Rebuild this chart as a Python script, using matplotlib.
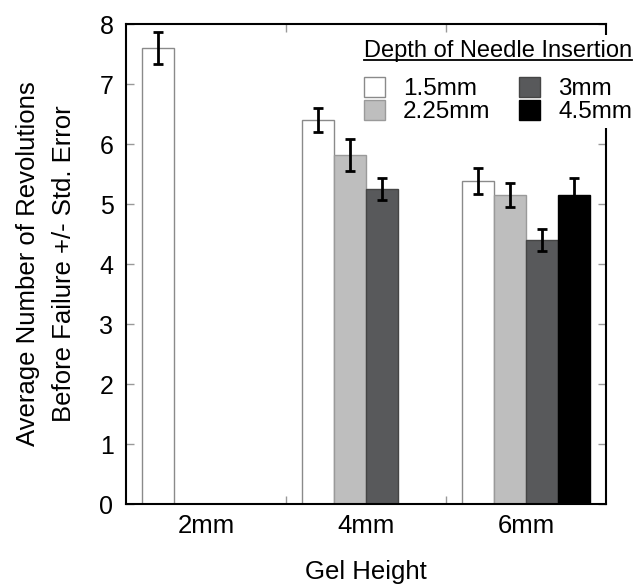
import numpy as np
import matplotlib
matplotlib.use("Agg")
import matplotlib.pyplot as plt
from matplotlib.lines import Line2D

plt.rcParams['font.family'] = ['Liberation Sans', 'DejaVu Sans']

# data
gel_heights = ['2mm', '4mm', '6mm']
depths = ['1.5mm', '2.25mm', '3mm', '4.5mm']
# mean revolutions per gel height (None = not tested)
mean_15 = [7.60, 6.40, 5.38]
mean_225 = [None, 5.82, 5.15]
mean_3 = [None, 5.25, 4.40]
mean_45 = [None, None, 5.15]
err_15 = [0.27, 0.20, 0.22]
err_225 = [None, 0.27, 0.20]
err_3 = [None, 0.18, 0.18]
err_45 = [None, None, 0.28]

fills = ['white', '#bebebe', '#58595b', 'black']
edges = ['#8a8a8a', '#9a9a9a', '#454545', '#000000']

fig = plt.figure(figsize=(6.35, 5.85), dpi=100)
ax = fig.add_axes([126 / 635, 81 / 585, 480 / 635, 480 / 585])

width = 0.2
x = np.arange(len(gel_heights))
series = [(mean_15, err_15), (mean_225, err_225), (mean_3, err_3), (mean_45, err_45)]
handles = []
for i, (means, errs) in enumerate(series):
    idx = [j for j, m in enumerate(means) if m is not None]
    xs = x[idx] - 0.3 + width * i
    h = [means[j] for j in idx]
    e = [errs[j] for j in idx]
    b = ax.bar(xs, h, width, color=fills[i], edgecolor=edges[i], linewidth=1,
               label=depths[i], zorder=2)
    ax.errorbar(xs, h, yerr=e, fmt='none', ecolor='black', elinewidth=2,
                capsize=3.5, capthick=2, zorder=3)
    handles.append(b)

ax.set_xlim(-0.5, 2.5)
ax.set_ylim(0, 8)
ax.set_xticks(x)
ax.set_xticklabels(gel_heights)
ax.set_xticks([0.5, 1.5], minor=True)
ax.set_yticks(range(0, 9))

ax.tick_params(axis='x', which='major', length=0, pad=7, labelsize=18.5)
ax.tick_params(axis='x', which='minor', direction='in', length=6, width=1,
               color='#999999', top=True, bottom=True)
ax.tick_params(axis='y', which='major', direction='in', length=6, width=1,
               color='#999999', left=True, right=True, pad=9, labelsize=18)
for s in ax.spines.values():
    s.set_linewidth(1.5)
    s.set_color('black')

ax.set_ylabel('Average Number of Revolutions\nBefore Failure +/- Std. Error',
              fontsize=18.5, labelpad=17, linespacing=1.6)
ax.set_xlabel('Gel Height', fontsize=18.5, labelpad=16)

leg = ax.legend(handles=handles, labels=depths, ncol=2,
                title='Depth of Needle Insertion', title_fontsize=17,
                fontsize=17.5, alignment='left',
                loc='upper left', bbox_to_anchor=(359 / 635, 1 - 35 / 585),
                bbox_transform=fig.transFigure,
                frameon=True, facecolor='white', edgecolor='none', framealpha=1,
                fancybox=False, borderpad=0.2, borderaxespad=0,
                handlelength=0.85, handleheight=0.85, handletextpad=0.75,
                labelspacing=0, columnspacing=1.2)
leg.set_zorder(5)
# extra gap between the title and the entries
leg._legend_box.sep = 11

# underline the legend title
fig.canvas.draw()
bb = leg.get_title().get_window_extent(fig.canvas.get_renderer())
inv = fig.transFigure.inverted()
(x0, y0), (x1, _) = inv.transform([(bb.x0, bb.y0 + 2), (bb.x1, bb.y0 + 2)])
fig.add_artist(Line2D([x0, x1], [y0, y0], color='black', linewidth=1.3,
                      transform=fig.transFigure, zorder=6))

fig.savefig('out.png', dpi=100)
